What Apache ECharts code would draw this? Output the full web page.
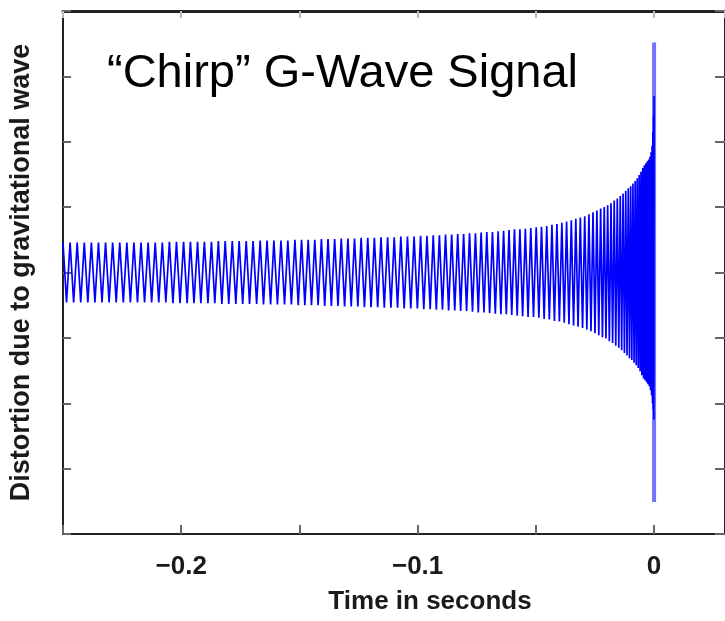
<!DOCTYPE html>
<html>
<head>
<meta charset="utf-8">
<script src="https://cdn.jsdelivr.net/npm/echarts@6/dist/echarts.min.js"></script>
<style>
  html, body { margin: 0; padding: 0; background: #ffffff; }
  #chart { width: 725px; height: 621px; }
</style>
</head>
<body>
<div id="chart"></div>
<script>
// Time in milliseconds (axis labelled in seconds), distortion in arbitrary units.
// Successive extrema of the chirp waveform: [time ms, value]
var waveEarly = [
  [-250,0.46],[-248.5,-0.46],[-247,0.46],[-245.5,-0.46],[-244,0.46],[-242.5,-0.46],[-241,0.46],[-239.5,-0.46],
  [-238,0.46],[-236.5,-0.46],[-235,0.46],[-233.5,-0.46],[-232,0.46],[-230.5,-0.46],[-229,0.46],[-227.5,-0.46],
  [-226,0.46],[-224.5,-0.46],[-223,0.46],[-221.5,-0.46],[-220,0.46],[-218.5,-0.46],[-217,0.46],[-215.5,-0.46],
  [-214,0.46],[-212.5,-0.46],[-211,0.46],[-209.5,-0.46],[-208,0.46],[-206.5,-0.46],[-205,0.47],[-203.5,-0.47],
  [-202,0.47],[-200.5,-0.47],
  [-199.0,0.47],[-197.5,-0.47],[-196.1,0.47],[-194.6,-0.47],[-193.1,0.47],[-191.7,-0.47],[-190.2,0.47],[-188.7,-0.47],
  [-187.2,0.47],[-185.8,-0.47],[-184.3,0.48],[-182.8,-0.48],[-181.4,0.48],[-179.9,-0.48],[-178.4,0.48],[-176.9,-0.48],
  [-175.5,0.48],[-174.0,-0.48],[-172.5,0.48],[-171.1,-0.48],[-169.6,0.48],[-168.1,-0.48],[-166.6,0.49],[-165.2,-0.49],
  [-163.7,0.49],[-162.2,-0.49],[-160.8,0.49],[-159.3,-0.49],[-157.8,0.49],[-156.3,-0.49],[-154.9,0.49],[-153.4,-0.49],
  [-151.9,0.50],[-150.5,-0.50]
];
var waveMid = [
  [-149.1,0.50],[-147.7,-0.50],[-146.3,0.50],[-144.9,-0.50],[-143.5,0.50],[-142.1,-0.50],[-140.7,0.51],[-139.3,-0.51],
  [-137.9,0.51],[-136.5,-0.51],[-135.1,0.51],[-133.7,-0.51],[-132.3,0.52],[-130.9,-0.52],[-129.5,0.52],[-128.1,-0.52],
  [-126.7,0.52],[-125.3,-0.52],[-123.9,0.53],[-122.5,-0.53],[-121.1,0.53],[-119.7,-0.53],[-118.3,0.53],[-116.9,-0.53],
  [-115.5,0.54],[-114.1,-0.54],[-112.7,0.54],[-111.3,-0.54],[-109.9,0.54],[-108.5,-0.54],[-107.1,0.55],[-105.7,-0.55],
  [-104.3,0.55],[-102.9,-0.55],[-101.5,0.55],[-100.1,-0.55],
  [-98.75,0.56],[-97.4,-0.56],[-96.05,0.56],[-94.7,-0.56],[-93.4,0.57],[-92.1,-0.57],[-90.8,0.57],[-89.5,-0.57],
  [-88.2,0.58],[-86.9,-0.58],[-85.6,0.58],[-84.3,-0.58],[-83.05,0.59],[-81.8,-0.59],[-80.55,0.59],[-79.3,-0.59],
  [-78.05,0.60],[-76.8,-0.60],[-75.55,0.60],[-74.35,-0.61],[-73.15,0.61],[-71.95,-0.61],[-70.75,0.62],[-69.55,-0.62],
  [-68.35,0.62],[-67.15,-0.63],[-65.95,0.63],[-64.8,-0.64],[-63.65,0.64],[-62.5,-0.64],[-61.35,0.65],[-60.2,-0.65],
  [-59.05,0.66],[-57.9,-0.66],[-56.75,0.66],[-55.6,-0.67],[-54.45,0.67],[-53.3,-0.68],[-52.15,0.68],[-51.0,-0.68]
];
var waveLate = [
  [-49.85,0.69],[-48.72,-0.69],[-47.6,0.70],[-46.5,-0.71],[-45.4,0.71],[-44.3,-0.72],[-43.2,0.73],[-42.15,-0.74],
  [-41.1,0.74],[-40.05,-0.75],[-39.0,0.76],[-38.0,-0.77],[-37.0,0.78],[-36.0,-0.79],[-35.0,0.80],[-34.05,-0.81],
  [-33.1,0.82],[-32.15,-0.83],[-31.2,0.84],[-30.25,-0.85],
  [-29.33,0.86],[-28.43,-0.87],[-27.55,0.89],[-26.68,-0.90],[-25.83,0.92],[-25.0,-0.93],[-24.18,0.95],[-23.38,-0.96],
  [-22.6,0.98],[-21.83,-0.99],[-21.08,1.00],[-20.35,-1.01],
  [-19.63,1.03],[-18.92,-1.05],[-18.22,1.06],[-17.53,-1.08],[-16.86,1.10],[-16.2,-1.12],[-15.55,1.13],[-14.92,-1.15],
  [-14.3,1.17],[-13.7,-1.19],[-13.11,1.21],[-12.54,-1.23],[-11.98,1.25],[-11.44,-1.27],[-10.91,1.29],[-10.4,-1.31],
  [-9.9,1.32]
];
var waveMerger = [
  [-9.41,-1.34],[-8.93,1.36],[-8.46,-1.38],[-8.0,1.40],[-7.56,-1.42],[-7.13,1.44],[-6.71,-1.46],[-6.3,1.49],
  [-5.91,-1.51],[-5.53,1.54],[-5.16,-1.57],[-4.8,1.60],
  [-4.45,-1.62],[-4.11,1.64],[-3.78,-1.65],[-3.46,1.67],[-3.15,-1.68],[-2.85,1.70],[-2.56,-1.71],[-2.28,1.73],
  [-2.01,-1.74],[-1.75,1.77],[-1.5,-1.80],[-1.26,1.84],[-1.04,-1.88],[-0.84,1.94],[-0.66,-2.00],[-0.5,2.15],
  [-0.36,-2.10],[-0.22,2.40],[-0.1,-2.25],[0,2.70]
];
// Final, largest excursion at coalescence
var finalSpike = [[0, 3.52], [0, -3.51]];

// Tick labels of the time axis (ms value -> text in seconds)
var xLabelValues = [-200, -100, 0];
var xLabelTexts = ['\u22120.2', '\u22120.1', '0'];

var titleText = '\u201CChirp\u201D G-Wave Signal';
var xName = 'Time in seconds';
var yName = 'Distortion due to gravitational wave';

var wave = [].concat(waveEarly, waveMid, waveLate, waveMerger);

var chart = echarts.init(document.getElementById('chart'), null, { renderer: 'canvas' });
var FONT = '"Liberation Sans", Arial, Helvetica, sans-serif';
var tickStyle = { color: '#666666', width: 2 };
var lineStyleAxis = { color: '#222222', width: 2 };

chart.setOption({
  animation: false,
  backgroundColor: '#ffffff',
  title: {
    text: titleText,
    left: 107,
    top: 51,
    padding: 0,
    textStyle: { fontFamily: FONT, fontSize: 47, fontWeight: 'normal', color: '#000000' }
  },
  grid: { left: 62, top: 11, right: -7, bottom: 87, containLabel: false },
  xAxis: [
    {
      type: 'value', position: 'bottom', min: -250, max: 30, interval: 50,
      name: xName, nameLocation: 'middle', nameGap: 55,
      nameTextStyle: { fontFamily: FONT, fontSize: 26, fontWeight: 'bold', color: '#1a1a1a', padding: [0, 0, 0, 72] },
      axisLine: { show: true, onZero: false, lineStyle: lineStyleAxis },
      axisTick: { show: true, inside: true, length: 9, lineStyle: tickStyle },
      splitLine: { show: false },
      axisLabel: {
        show: true, margin: 20, fontFamily: FONT, fontSize: 26, fontWeight: 'bold', color: '#1a1a1a',
        showMinLabel: true, showMaxLabel: false,
        formatter: function (v) {
          for (var i = 0; i < xLabelValues.length; i++) {
            if (Math.abs(v - xLabelValues[i]) < 1e-6) return xLabelTexts[i];
          }
          return '';
        }
      }
    },
    {
      type: 'value', position: 'top', min: -250, max: 30, interval: 50,
      axisLine: { show: true, onZero: false, lineStyle: { color: '#222222', width: 3 } },
      axisTick: { show: true, inside: true, length: 7, lineStyle: { color: '#bbbbbb', width: 2 } },
      splitLine: { show: false },
      axisLabel: { show: false }
    }
  ],
  yAxis: [
    {
      type: 'value', position: 'left', min: -4, max: 4, interval: 1,
      name: yName, nameLocation: 'middle', nameRotate: 90, nameGap: 28,
      nameTextStyle: { fontFamily: FONT, fontSize: 27, fontWeight: 'bold', color: '#1a1a1a' },
      axisLine: { show: true, onZero: false, lineStyle: lineStyleAxis },
      axisTick: { show: true, inside: true, length: 8, lineStyle: tickStyle },
      splitLine: { show: false },
      axisLabel: { show: false }
    },
    {
      type: 'value', position: 'right', min: -4, max: 4, interval: 1,
      axisLine: { show: true, onZero: false, lineStyle: lineStyleAxis },
      axisTick: { show: true, inside: true, length: 10, lineStyle: tickStyle },
      splitLine: { show: false },
      axisLabel: { show: false }
    }
  ],
  series: [
    {
      type: 'line', data: wave, xAxisIndex: 0, yAxisIndex: 0,
      showSymbol: false, symbol: 'none', smooth: false, sampling: null,
      lineStyle: { color: '#0000ff', width: 1.7 },
      z: 3
    },
    {
      type: 'line', data: finalSpike, xAxisIndex: 0, yAxisIndex: 0,
      showSymbol: false, symbol: 'none',
      lineStyle: { color: '#7373ff', width: 4, cap: 'butt' },
      z: 2
    }
  ]
});
</script>
</body>
</html>
